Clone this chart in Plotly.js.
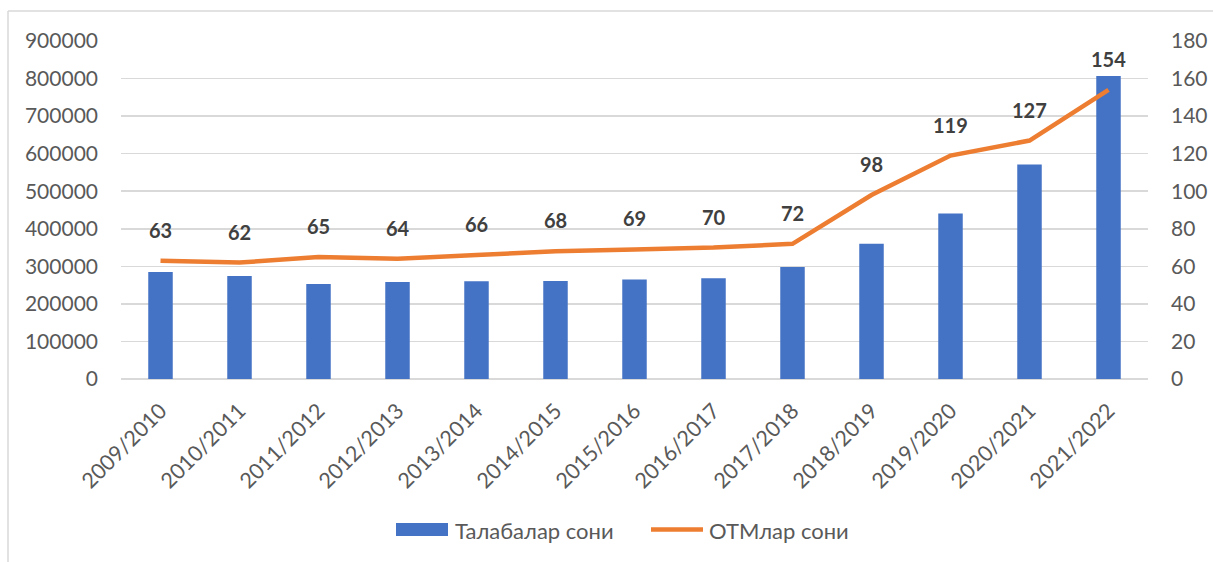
<!DOCTYPE html>
<html>
<head>
<meta charset="utf-8">
<script src="https://cdn.plot.ly/plotly-3.0.1.min.js"></script>
<style>html,body{margin:0;padding:0;background:#fff;}#chart{width:1213px;height:562px;}</style>
</head>
<body>
<div id="chart"></div>
<script>
const years = ["2009/2010","2010/2011","2011/2012","2012/2013","2013/2014","2014/2015","2015/2016","2016/2017","2017/2018","2018/2019","2019/2020","2020/2021","2021/2022"];
const students = [285000, 274000, 253000, 258000, 260000, 261000, 265000, 268000, 298000, 360000, 441000, 571000, 807000];
const universities = [63, 62, 65, 64, 66, 68, 69, 70, 72, 98, 119, 127, 154];
const seriesNames = ["Талабалар сони", "ОТМлар сони"];
const seriesColors = ["#4472C4", "#ED7D31"];

const FONT = "Lato, 'Open Sans', sans-serif";
const GRAY = "#595959";

// plot-area geometry (pixels) used to place decoration in paper coordinates
const W = 1213, H = 562, ML = 121, MR = 65, MT = 41, MB = 183;
const PW = W - ML - MR, PH = H - MT - MB;
const px = v => (v - ML) / PW;
const py = v => (H - MB - v) / PH;

const traces = [
  {
    type: "bar", x: years, y: students, name: seriesNames[0],
    marker: {color: seriesColors[0]}, yaxis: "y", hoverinfo: "x+y", showlegend: false
  },
  {
    type: "scatter", mode: "lines", x: years, y: universities, name: seriesNames[1],
    line: {color: seriesColors[1], width: 4.5}, yaxis: "y2", hoverinfo: "x+y", showlegend: false
  }
];

const annotations = years.map((yr, i) => ({
  x: yr, y: universities[i], xref: "x", yref: "y2",
  text: "<b>" + universities[i] + "</b>", showarrow: false,
  yshift: 31, yanchor: "middle",
  font: {family: FONT, size: 20, color: "#404040"}
}));

// custom legend text
annotations.push({
  xref: "paper", yref: "paper", x: px(453), y: py(530), xanchor: "left", yanchor: "middle",
  text: seriesNames[0], showarrow: false, font: {family: FONT, size: 22, color: GRAY}
});
annotations.push({
  xref: "paper", yref: "paper", x: px(707), y: py(530), xanchor: "left", yanchor: "middle",
  text: seriesNames[1], showarrow: false, font: {family: FONT, size: 22, color: GRAY}
});

const layout = {
  width: W, height: H,
  margin: {l: ML, r: MR, t: MT, b: MB},
  paper_bgcolor: "#fff", plot_bgcolor: "#fff",
  bargap: 0.69,
  font: {family: FONT, size: 21, color: GRAY},
  xaxis: {
    type: "category", tickangle: -45, showgrid: false, showline: false, zeroline: false,
    ticks: "", ticklabelstandoff: 14,
    tickfont: {family: FONT, size: 21.5, color: GRAY}
  },
  yaxis: {
    range: [0, 900000], dtick: 100000, tickformat: "d",
    showgrid: true, gridcolor: "#D9D9D9", gridwidth: 1.5,
    zeroline: true, zerolinecolor: "#D9D9D9", zerolinewidth: 1.5,
    showline: false, ticks: "", ticklabelstandoff: 22,
    tickfont: {family: FONT, size: 21, color: GRAY}
  },
  yaxis2: {
    range: [0, 180], dtick: 20, overlaying: "y", side: "right",
    showgrid: false, zeroline: false, showline: false, ticks: "", ticklabelstandoff: 22,
    tickfont: {family: FONT, size: 21, color: GRAY}
  },
  showlegend: false,
  annotations: annotations,
  shapes: [
    {type: "line", xref: "paper", yref: "paper",
     x0: px(8), x1: px(8), y0: py(11), y1: py(H),
     line: {color: "#D9D9D9", width: 1.5}},
    {type: "line", xref: "paper", yref: "paper",
     x0: px(8), x1: px(W), y0: py(11), y1: py(11),
     line: {color: "#D9D9D9", width: 1.5}},
    // legend swatches
    {type: "rect", xref: "paper", yref: "paper",
     x0: px(396), x1: px(448), y0: py(523), y1: py(536),
     fillcolor: seriesColors[0], line: {width: 0}},
    {type: "line", xref: "paper", yref: "paper",
     x0: px(651), x1: px(703), y0: py(529.5), y1: py(529.5),
     line: {color: seriesColors[1], width: 4.5}}
  ]
};

Plotly.newPlot("chart", traces, layout, {displayModeBar: false, staticPlot: true});
</script>
</body>
</html>
